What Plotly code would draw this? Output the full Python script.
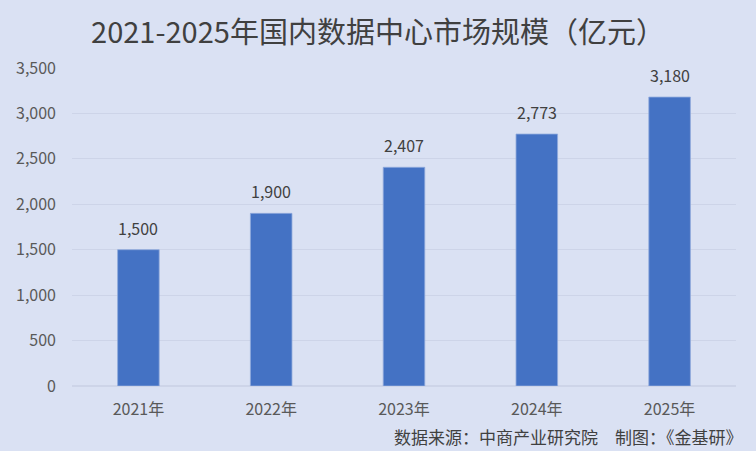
import plotly.graph_objects as go

years = ["2021年", "2022年", "2023年", "2024年", "2025年"]
market_size = [1500, 1900, 2407, 2773, 3180]
value_labels = ["1,500", "1,900", "2,407", "2,773", "3,180"]

BG = "#dae1f3"
BAR = "#4472c4"
FONT = "Noto Sans CJK SC"

fig = go.Figure(
    go.Bar(
        x=years,
        y=market_size,
        marker=dict(color=BAR, line=dict(color="#8fa9dc", width=0.8)),
        hoverinfo="x+y",
    )
)

# data labels sit a bit higher above the bars than plotly's "outside" text
labels = [
    dict(
        x=yr, y=val, text=txt,
        xref="x", yref="y",
        yanchor="bottom", yshift=8,
        showarrow=False,
        font=dict(size=16, color="#404040", family=FONT),
    )
    for yr, val, txt in zip(years, market_size, value_labels)
]

labels.append(
    dict(
        text="数据来源：中商产业研究院　制图：《金基研》",
        xref="paper",
        yref="paper",
        x=1.0136,
        y=-0.16,
        xanchor="right",
        yanchor="middle",
        showarrow=False,
        font=dict(size=17, color="#404040", family=FONT),
    )
)

fig.update_layout(
    width=756,
    height=451,
    paper_bgcolor=BG,
    plot_bgcolor=BG,
    margin=dict(l=72, r=20, t=68, b=65, autoexpand=False),
    bargap=0.687,
    showlegend=False,
    font=dict(family=FONT, color="#595959"),
    title=dict(
        text="2021-2025年国内数据中心市场规模（亿元）",
        x=0.5,
        xanchor="center",
        y=0.927,
        yanchor="middle",
        font=dict(size=29, color="#404040", family=FONT),
    ),
    xaxis=dict(
        showgrid=False,
        showline=False,
        automargin=False,
        tickfont=dict(size=16, color="#595959"),
        ticks="",
        ticklabelstandoff=12,
    ),
    yaxis=dict(
        range=[0, 3500],
        dtick=500,
        tickformat=",",
        automargin=False,
        gridcolor="#cdd4e8",
        gridwidth=1,
        zeroline=True,
        zerolinecolor="#cdd4e8",
        tickfont=dict(size=16, color="#595959"),
        ticks="",
        ticklabelstandoff=15,
    ),
    annotations=labels,
)

# drop the default 8px body margin so the chart fills the window
fig.write_html(
    "out.html",
    config={"displayModeBar": False},
    post_script="document.body.style.margin='0';",
)
